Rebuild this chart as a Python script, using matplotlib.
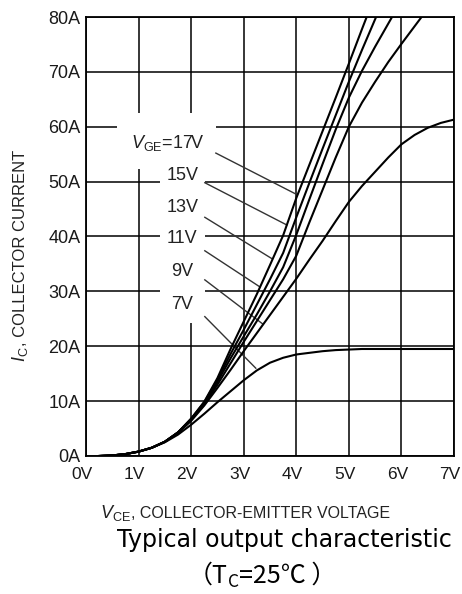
import matplotlib.pyplot as plt
from matplotlib.patches import Rectangle
from matplotlib.transforms import ScaledTranslation

plt.rcParams['font.family'] = ['Liberation Sans', 'DejaVu Sans']
plt.rcParams['mathtext.fontset'] = 'custom'
plt.rcParams['mathtext.rm'] = 'Liberation Sans'
plt.rcParams['mathtext.it'] = 'Liberation Sans:italic'
CJK = ['Noto Sans CJK SC', 'DejaVu Sans']

# collector-emitter voltage (V) and collector current (A) per gate voltage
vce = [0.25, 0.5, 0.75, 1.0, 1.25, 1.5, 1.75, 2.0, 2.25, 2.5, 2.75, 3.0, 3.25,
       3.5, 3.75, 4.0, 4.25, 4.5, 4.75, 5.0, 5.25, 5.5, 5.75, 6.0, 6.25, 6.5,
       6.75, 7.0]
ic_17v = [0, 0.1, 0.35, 0.8, 1.5, 2.6, 4.3, 6.8, 9.9, 14.2, 19.5, 24.5, 29.5,
          34.8, 40.2, 47.0, 53.1, 59.2, 65.3, 71.5, 77.8, 84.0]
ic_15v = [0, 0.1, 0.35, 0.8, 1.5, 2.6, 4.3, 6.8, 9.8, 13.9, 18.6, 23.0, 27.6,
          32.2, 37.0, 43.5, 49.8, 56.0, 62.1, 68.2, 74.0, 79.6, 85.2]
ic_13v = [0, 0.1, 0.35, 0.8, 1.5, 2.6, 4.3, 6.7, 9.6, 13.5, 17.8, 21.8, 25.8,
          30.0, 34.4, 40.3, 46.8, 53.2, 59.5, 65.3, 70.2, 74.6, 78.8, 83.0]
ic_11v = [0, 0.1, 0.35, 0.8, 1.5, 2.6, 4.3, 6.6, 9.4, 13.0, 16.9, 20.8, 24.6,
          28.4, 32.2, 36.5, 42.6, 48.5, 54.4, 60.0, 64.4, 68.2, 71.8, 75.1,
          78.3, 81.5]
ic_9v = [0, 0.1, 0.35, 0.8, 1.5, 2.6, 4.2, 6.4, 9.2, 12.4, 15.7, 19.1, 22.4,
         25.7, 29.0, 32.3, 35.8, 39.2, 42.8, 46.3, 49.2, 51.8, 54.4, 56.8,
         58.5, 59.8, 60.7, 61.3]
ic_7v = [0, 0.1, 0.35, 0.8, 1.5, 2.5, 3.9, 5.7, 7.7, 9.8, 11.8, 13.8, 15.6,
         17.0, 17.9, 18.5, 18.8, 19.1, 19.3, 19.4, 19.5, 19.5, 19.5, 19.5,
         19.5, 19.5, 19.5, 19.5]
curves = [ic_17v, ic_15v, ic_13v, ic_11v, ic_9v, ic_7v]

vge_labels = ['$V_{\\mathregular{GE}}$=17V', '15V', '13V', '11V', '9V', '7V']
label_pos = [(1.55, 57.1), (1.83, 51.2), (1.83, 45.3), (1.83, 39.7),
             (1.83, 33.7), (1.83, 27.6)]
leader_start = [(2.47, 55.2), (2.26, 49.8), (2.26, 43.5), (2.26, 37.4),
                (2.26, 32.1), (2.26, 25.4)]
leader_end = [(4.02, 47.6), (3.82, 42.1), (3.53, 36.0), (3.31, 30.8),
              (3.37, 24.0), (3.23, 16.0)]

x_ticks = [0, 1, 2, 3, 4, 5, 6, 7]
x_ticklabels = ['0V', '1V', '2V', '3V', '4V', '5V', '6V', '7V']
y_ticks = [0, 10, 20, 30, 40, 50, 60, 70, 80]
y_ticklabels = ['0A', '10A', '20A', '30A', '40A', '50A', '60A', '70A', '80A']

fig = plt.figure(figsize=(4.62, 5.94), dpi=100)
ax = fig.add_axes([86 / 462, 138 / 594, 368 / 462, 439 / 594])
ax.set_xlim(0, 7)
ax.set_ylim(0, 80)

ax.set_xticks(x_ticks)
ax.set_xticklabels(x_ticklabels)
ax.set_yticks(y_ticks)
ax.set_yticklabels(y_ticklabels)
ax.tick_params(length=0, colors='#1a1a1a')
ax.tick_params(axis='x', pad=8, labelsize=12.5)
ax.tick_params(axis='y', pad=4, labelsize=13)
# x tick labels sit a little left of their grid lines
shift = ScaledTranslation(-4 / 100, 0, fig.dpi_scale_trans)
for lab in ax.get_xticklabels():
    lab.set_transform(lab.get_transform() + shift)
ax.grid(True, color='black', lw=1.1)
ax.set_axisbelow(True)
for sp in ax.spines.values():
    sp.set_linewidth(1.3)

# blank patches so the grid does not run through the labels
ax.add_patch(Rectangle((0.59, 52.3), 1.88, 10.2, fc='white', ec='none', zorder=1.5))
ax.add_patch(Rectangle((1.41, 24.2), 0.85, 28.2, fc='white', ec='none', zorder=1.5))

for ic in curves:
    ax.plot(vce[:len(ic)], ic, color='black', lw=1.5, zorder=3)

for txt, pos, p0, p1 in zip(vge_labels, label_pos, leader_start, leader_end):
    ax.text(pos[0], pos[1], txt, ha='center', va='center', fontsize=13,
            color='#222222', zorder=4)
    ax.plot([p0[0], p1[0]], [p0[1], p1[1]], color='#333333', lw=1.0, zorder=2.5)

# axis labels
fig.text(131 / 462, 1 - 518 / 594, '$V_{\\mathregular{CE}}$', fontsize=13,
         ha='right', va='baseline', color='#222222')
fig.text(131 / 462, 1 - 518 / 594, ', COLLECTOR-EMITTER VOLTAGE', fontsize=11.5,
         ha='left', va='baseline', color='#222222')
fig.text(25 / 462, 1 - 346 / 594, '$I_{\\mathregular{C}}$', fontsize=13,
         rotation=90, rotation_mode='anchor', ha='right', va='baseline',
         color='#222222')
fig.text(25 / 462, 1 - 346 / 594, ', COLLECTOR CURRENT', fontsize=12,
         rotation=90, rotation_mode='anchor', ha='left', va='baseline',
         color='#222222')

fig.text(284.5 / 462, 1 - 547 / 594, 'Typical output characteristic',
         fontsize=17, family='DejaVu Sans', ha='center', va='baseline')

# (T_C=25℃) built from pieces so the subscript keeps the CJK font
t1 = fig.text(188 / 462, 1 - 583 / 594, '（T', fontsize=18, family=CJK,
              ha='left', va='baseline')
t2 = ax.annotate('C', xy=(1, 0), xycoords=t1, xytext=(0, -1.5),
                 textcoords='offset points', fontsize=12.5, family=CJK,
                 ha='left', va='bottom', annotation_clip=False)
ax.annotate('=25℃ ）', xy=(1, 0), xycoords=(t2, t1), fontsize=18, family=CJK,
            ha='left', va='bottom', annotation_clip=False)

fig.savefig('out.png', dpi=100)
